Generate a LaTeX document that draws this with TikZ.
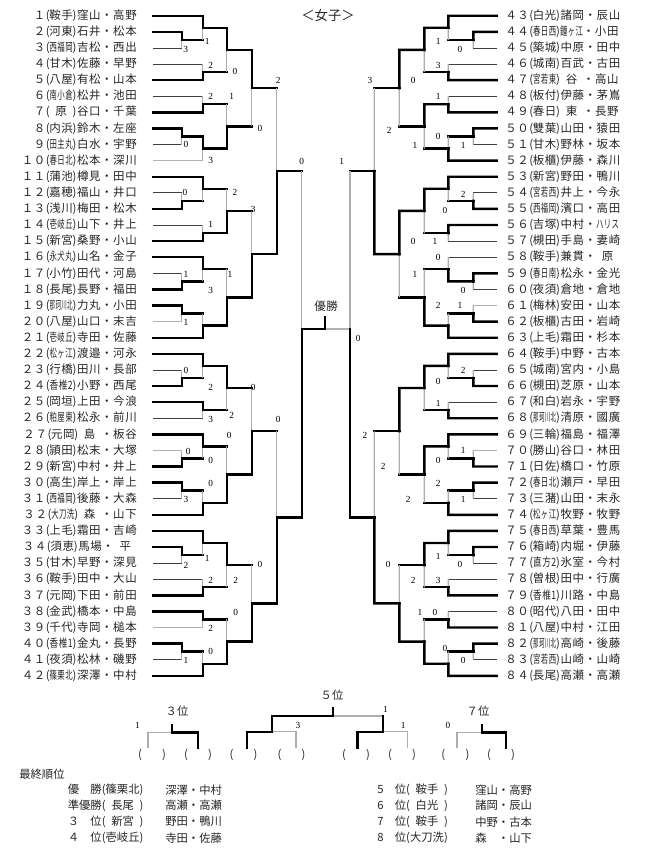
\documentclass[tikz,border=0pt]{standalone}
\usepackage{fontspec}
\usepackage{graphicx}
\usetikzlibrary{calc}
\newfontfamily\jp{Noto Sans CJK JP}
\newfontfamily\jpsp[LetterSpace=5]{Noto Sans CJK JP}
\newfontfamily\srf{Liberation Serif}
\newcommand\sq[1]{\resizebox{2em}{\height}{#1}}
\newcommand\tw[1]{\makebox[2em]{#1}}
\newcounter{scn}
\newcommand\entL[4]{%
  \coordinate (p#1) at (153.3,{15.7+(#1-1)*16.1});
  \node[ent,anchor=east] (t#1) at (137,{15.7+(#1-1)*16.1}) {#2(\tw{#3})#4};}
\newcommand\entR[4]{%
  \coordinate (p#1) at (496.7,{15.7+(#1-43)*16.1});
  \node[ent,anchor=west] (t#1) at (505,{15.7+(#1-43)*16.1}) {#2(\tw{#3})#4};}
% match: name, column, winner, loser, loser-horizontal style
\newcommand\bmatch[5]{%
  \coordinate (#1) at ($(#3 -| #2)!0.5!(#4 -| #2)$);
  \draw[#5] (#4) -- (#4 -| #2);
  \draw[lv] (#4 -| #2) -- (#1);
  \draw[win] (#3) -- (#3 -| #2) -- (#1);}
\newcommand\sclab[3]{\stepcounter{scn}\node[score] (s\arabic{scn}) at (#1,#2) {#3};}
\tikzset{
  win/.style={line width=1.8pt, black, line cap=rect},
  mh/.style={line width=1.8pt, black, line cap=rect},
  lh/.style={line width=0.6pt, black!75},
  gh/.style={line width=1.1pt, black!30},
  lv/.style={line width=1pt, black!32},
  fl/.style={line width=1.6pt, black!30},
  ent/.style={font=\jpsp\fontsize{8.6}{10}\selectfont, text=black!85, inner sep=0pt},
  rk/.style={font=\jp\fontsize{8.5}{9}\selectfont, text=black!85, inner sep=0pt},
  score/.style={font=\srf\fontsize{7}{7}\selectfont, inner sep=0pt},
}
\begin{document}
\begin{tikzpicture}[x=0.75pt,y=-0.75pt]
\fill[white] (0,0) rectangle (650,850);
\useasboundingbox (0,0) rectangle (650,850);
% columns
\coordinate (L1) at (181.7,0); \coordinate (L2) at (202.7,0); \coordinate (L3) at (226.7,0);
\coordinate (L4) at (251.7,0); \coordinate (L5) at (276.7,0); \coordinate (L6) at (301.7,0);
\coordinate (R1) at (473.3,0); \coordinate (R2) at (448.3,0); \coordinate (R3) at (424.3,0);
\coordinate (R4) at (399.3,0); \coordinate (R5) at (374.3,0); \coordinate (R6) at (350,0);
\node[ent,font=\jp\fontsize{10}{10}\selectfont] (title) at (328,15.7) {＜女子＞};
% left entries
\entL{1}{１}{鞍手}{窪山・高野}
\entL{2}{２}{河東}{石井・松本}
\entL{3}{３}{\sq{西福岡}}{吉松・西出}
\entL{4}{４}{甘木}{佐藤・早野}
\entL{5}{５}{八屋}{有松・山本}
\entL{6}{６}{\sq{南小倉}}{松井・池田}
\entL{7}{７}{原}{谷口・千葉}
\entL{8}{８}{内浜}{鈴木・左座}
\entL{9}{９}{\sq{田主丸}}{白水・宇野}
\entL{10}{１０}{\sq{春日北}}{松本・深川}
\entL{11}{１１}{蒲池}{樽見・田中}
\entL{12}{１２}{嘉穂}{福山・井口}
\entL{13}{１３}{浅川}{梅田・松木}
\entL{14}{１４}{\sq{壱岐丘}}{山下・井上}
\entL{15}{１５}{新宮}{桑野・小山}
\entL{16}{１６}{\sq{永犬丸}}{山名・金子}
\entL{17}{１７}{小竹}{田代・河島}
\entL{18}{１８}{長尾}{長野・福田}
\entL{19}{１９}{\sq{那珂川北}}{力丸・小田}
\entL{20}{２０}{八屋}{山口・末吉}
\entL{21}{２１}{\sq{壱岐丘}}{寺田・佐藤}
\entL{22}{２２}{\sq{松ヶ江}}{渡邉・河永}
\entL{23}{２３}{行橋}{田川・長部}
\entL{24}{２４}{\sq{香椎2}}{小野・西尾}
\entL{25}{２５}{岡垣}{上田・今浪}
\entL{26}{２６}{\sq{粕屋東}}{松永・前川}
\entL{27}{２７}{元岡}{\tw{島}・板谷}
\entL{28}{２８}{頴田}{松末・大塚}
\entL{29}{２９}{新宮}{中村・井上}
\entL{30}{３０}{高生}{岸上・岸上}
\entL{31}{３１}{\sq{西福岡}}{後藤・大森}
\entL{32}{３２}{\sq{大刀洗}}{\tw{森}・山下}
\entL{33}{３３}{上毛}{霜田・吉崎}
\entL{34}{３４}{須恵}{馬場・\tw{平}}
\entL{35}{３５}{甘木}{早野・深見}
\entL{36}{３６}{鞍手}{田中・大山}
\entL{37}{３７}{元岡}{下田・前田}
\entL{38}{３８}{金武}{橋本・中島}
\entL{39}{３９}{千代}{寺岡・槌本}
\entL{40}{４０}{\sq{香椎1}}{金丸・長野}
\entL{41}{４１}{夜須}{松林・磯野}
\entL{42}{４２}{\sq{篠栗北}}{深澤・中村}
% right entries
\entR{43}{４３}{白光}{諸岡・辰山}
\entR{44}{４４}{\sq{春日西}}{\sq{鐘ヶ江}・小田}
\entR{45}{４５}{築城}{中原・田中}
\entR{46}{４６}{城南}{百武・古田}
\entR{47}{４７}{\sq{宮若東}}{\tw{谷}・高山}
\entR{48}{４８}{板付}{伊藤・茅嶌}
\entR{49}{４９}{春日}{\tw{東}・長野}
\entR{50}{５０}{雙葉}{山田・猿田}
\entR{51}{５１}{甘木}{野林・坂本}
\entR{52}{５２}{板櫃}{伊藤・森川}
\entR{53}{５３}{新宮}{野田・鴨川}
\entR{54}{５４}{\sq{宮若西}}{井上・今永}
\entR{55}{５５}{\sq{西福岡}}{濱口・高田}
\entR{56}{５６}{吉塚}{中村・\sq{ハリス}}
\entR{57}{５７}{槻田}{手島・妻崎}
\entR{58}{５８}{鞍手}{兼貫・\tw{原}}
\entR{59}{５９}{\sq{春日南}}{松永・金光}
\entR{60}{６０}{夜須}{倉地・倉地}
\entR{61}{６１}{梅林}{安田・山本}
\entR{62}{６２}{板櫃}{古田・岩崎}
\entR{63}{６３}{上毛}{霜田・杉本}
\entR{64}{６４}{鞍手}{中野・古本}
\entR{65}{６５}{城南}{宮内・小島}
\entR{66}{６６}{槻田}{芝原・山本}
\entR{67}{６７}{和白}{岩永・宇野}
\entR{68}{６８}{\sq{那珂川北}}{清原・國廣}
\entR{69}{６９}{三輪}{福島・福澤}
\entR{70}{７０}{勝山}{谷口・林田}
\entR{71}{７１}{日佐}{橋口・竹原}
\entR{72}{７２}{\sq{春日北}}{瀬戸・早田}
\entR{73}{７３}{三潴}{山田・末永}
\entR{74}{７４}{\sq{松ヶ江}}{牧野・牧野}
\entR{75}{７５}{\sq{春日西}}{草葉・豊馬}
\entR{76}{７６}{箱崎}{内堀・伊藤}
\entR{77}{７７}{\sq{直方2}}{氷室・今村}
\entR{78}{７８}{曽根}{田中・行廣}
\entR{79}{７９}{\sq{香椎1}}{川路・中島}
\entR{80}{８０}{昭代}{八田・田中}
\entR{81}{８１}{八屋}{中村・江田}
\entR{82}{８２}{\sq{那珂川北}}{高崎・後藤}
\entR{83}{８３}{\sq{宮若西}}{山崎・山崎}
\entR{84}{８４}{長尾}{高瀬・高瀬}
% ---- left bracket
\bmatch{a23}{L1}{p2}{p3}{lh}
\bmatch{a1}{L2}{p1}{a23}{mh}
\bmatch{a45}{L2}{p5}{p4}{lh}
\bmatch{aa}{L3}{a1}{a45}{mh}
\bmatch{a67}{L2}{p7}{p6}{lh}
\bmatch{a89}{L1}{p8}{p9}{lh}
\bmatch{a810}{L2}{a89}{p10}{gh}
\bmatch{ab}{L3}{a810}{a67}{mh}
\bmatch{aT}{L4}{aa}{ab}{mh}
\bmatch{b1213}{L1}{p13}{p12}{lh}
\bmatch{b11}{L2}{p11}{b1213}{mh}
\bmatch{b1415}{L2}{p15}{p14}{lh}
\bmatch{ba}{L3}{b1415}{b11}{mh}
\bmatch{b1718}{L1}{p18}{p17}{lh}
\bmatch{b16}{L2}{p16}{b1718}{mh}
\bmatch{b1920}{L1}{p19}{p20}{gh}
\bmatch{b21}{L2}{p21}{b1920}{mh}
\bmatch{bb}{L3}{b21}{b16}{mh}
\bmatch{bT}{L4}{bb}{ba}{mh}
\bmatch{QA}{L5}{bT}{aT}{mh}
\bmatch{c2324}{L1}{p24}{p23}{lh}
\bmatch{c22}{L2}{p22}{c2324}{mh}
\bmatch{c2526}{L2}{p25}{p26}{lh}
\bmatch{ca}{L3}{c22}{c2526}{mh}
\bmatch{c2829}{L1}{p29}{p28}{gh}
\bmatch{c27}{L2}{p27}{c2829}{mh}
\bmatch{c3031}{L1}{p30}{p31}{lh}
\bmatch{c32}{L2}{p32}{c3031}{mh}
\bmatch{cb}{L3}{c32}{c27}{mh}
\bmatch{cT}{L4}{cb}{ca}{mh}
\bmatch{d3435}{L1}{p34}{p35}{lh}
\bmatch{d33}{L2}{p33}{d3435}{mh}
\bmatch{d3637}{L2}{p37}{p36}{lh}
\bmatch{da}{L3}{d33}{d3637}{mh}
\bmatch{d3839}{L2}{p38}{p39}{gh}
\bmatch{d4041}{L1}{p40}{p41}{lh}
\bmatch{d42}{L2}{p42}{d4041}{mh}
\bmatch{db}{L3}{d42}{d3839}{mh}
\bmatch{dT}{L4}{db}{da}{mh}
\bmatch{QB}{L5}{dT}{cT}{mh}
% ---- right bracket
\bmatch{e4445}{R1}{p44}{p45}{lh}
\bmatch{e43}{R2}{p43}{e4445}{mh}
\bmatch{e4647}{R2}{p47}{p46}{lh}
\bmatch{ea}{R3}{e43}{e4647}{mh}
\bmatch{e4849}{R2}{p49}{p48}{lh}
\bmatch{e5051}{R1}{p50}{p51}{lh}
\bmatch{e52}{R2}{p52}{e5051}{mh}
\bmatch{eb}{R3}{e4849}{e52}{mh}
\bmatch{eT}{R4}{ea}{eb}{mh}
\bmatch{f5455}{R1}{p55}{p54}{lh}
\bmatch{f53}{R2}{p53}{f5455}{mh}
\bmatch{f5657}{R2}{p56}{p57}{lh}
\bmatch{fa}{R3}{f53}{f5657}{mh}
\bmatch{f5960}{R1}{p59}{p60}{lh}
\bmatch{f58}{R2}{f5960}{p58}{lh}
\bmatch{f6162}{R1}{p62}{p61}{gh}
\bmatch{f63}{R2}{p63}{f6162}{mh}
\bmatch{fb}{R3}{f63}{f58}{mh}
\bmatch{fT}{R4}{fa}{fb}{mh}
\bmatch{QE}{R5}{fT}{eT}{mh}
\bmatch{g6566}{R1}{p66}{p65}{lh}
\bmatch{g64}{R2}{p64}{g6566}{mh}
\bmatch{g6768}{R2}{p68}{p67}{lh}
\bmatch{ga}{R3}{g64}{g6768}{mh}
\bmatch{g7071}{R1}{p71}{p70}{gh}
\bmatch{g69}{R2}{p69}{g7071}{mh}
\bmatch{g7273}{R1}{p72}{p73}{lh}
\bmatch{g74}{R2}{p74}{g7273}{mh}
\bmatch{gb}{R3}{g69}{g74}{mh}
\bmatch{gT}{R4}{ga}{gb}{mh}
\bmatch{h7677}{R1}{p76}{p77}{lh}
\bmatch{h75}{R2}{p75}{h7677}{mh}
\bmatch{h7879}{R2}{p79}{p78}{lh}
\bmatch{ha}{R3}{h75}{h7879}{mh}
\bmatch{h8081}{R2}{p81}{p80}{lh}
\bmatch{h8283}{R1}{p82}{p83}{lh}
\bmatch{h84}{R2}{p84}{h8283}{mh}
\bmatch{hb}{R3}{h84}{h8081}{mh}
\bmatch{hT}{R4}{hb}{ha}{mh}
\bmatch{QF}{R5}{hT}{gT}{mh}
% ---- semifinals and final
\coordinate (fin) at (325,329);
\coordinate (fintop) at (325,317);
\coordinate (SL) at (L6 |- fin);
\coordinate (SR) at (R6 |- fin);
\draw[mh] (QA) -- (QA -| L6); \draw[lv] (QA -| L6) -- (SL);
\draw[mh] (QE) -- (QE -| R6); \draw[lv] (QE -| R6) -- (SR);
\draw[fl] (SR) -- (fin);
\draw[win] (QF) -- (QF -| R6) -- (SR);
\draw[win] (QB) -- (QB -| L6) -- (SL) -- (fin) -- (fintop);
\node[ent] (yusho) at (326,306) {優勝};
% ---- scores
\sclab{185.7}{49.3}{3}\sclab{207.3}{41.7}{1}\sclab{210.7}{65}{2}\sclab{235}{71.7}{0}
\sclab{278.3}{80}{2}\sclab{210.7}{96.3}{2}\sclab{231.7}{96.3}{1}\sclab{260}{128.3}{0}
\sclab{186}{144.3}{0}\sclab{210.7}{160.7}{3}\sclab{301.7}{161.7}{0}\sclab{185}{192.7}{0}
\sclab{235}{192.7}{2}\sclab{253.3}{209.3}{3}\sclab{210.7}{224}{1}\sclab{186}{274.3}{1}
\sclab{230}{274.3}{1}\sclab{210.7}{290.7}{3}\sclab{186}{322.7}{1}\sclab{186}{370.7}{0}
\sclab{210.7}{387.3}{2}\sclab{253.3}{387.3}{0}\sclab{231.7}{415}{2}\sclab{210.7}{419.3}{3}
\sclab{278.3}{419.3}{0}\sclab{229.3}{435}{0}\sclab{188.3}{451}{0}\sclab{210.7}{460}{0}
\sclab{210.7}{483.3}{0}\sclab{186}{499.3}{3}\sclab{207.3}{558.3}{1}\sclab{186}{565}{2}
\sclab{260}{564.3}{0}\sclab{210.7}{580}{2}\sclab{235.7}{580}{2}\sclab{235.7}{612.3}{0}
\sclab{210.7}{628.3}{2}\sclab{210.7}{651}{0}\sclab{186}{660.7}{1}
\sclab{438.3}{41.7}{1}\sclab{460}{49.3}{0}\sclab{438.3}{65.7}{3}\sclab{370}{80}{3}
\sclab{413.3}{80}{0}\sclab{438.3}{96.7}{1}\sclab{389.3}{130}{2}\sclab{438.3}{136.7}{0}
\sclab{415}{145.7}{1}\sclab{463.3}{145.7}{1}\sclab{341.7}{161.7}{1}\sclab{463.3}{194.3}{2}
\sclab{445}{210}{0}\sclab{413.3}{241.7}{0}\sclab{435}{241.7}{1}\sclab{438.3}{257.3}{0}
\sclab{415}{274.3}{1}\sclab{463.3}{290.7}{0}\sclab{438.3}{305.7}{2}\sclab{460}{305.7}{1}
\sclab{358.3}{338.3}{0}\sclab{463.3}{370.7}{2}\sclab{438.3}{381.7}{0}\sclab{438.3}{403.3}{1}
\sclab{365}{435}{2}\sclab{463.3}{450.3}{1}\sclab{438.3}{460}{0}\sclab{383.3}{466.7}{2}
\sclab{438.3}{483.3}{2}\sclab{408.3}{499.3}{2}\sclab{463.3}{499.3}{1}\sclab{438.3}{556}{1}
\sclab{460}{564.3}{0}\sclab{388.3}{564.3}{0}\sclab{413.3}{580}{2}\sclab{438.3}{580}{3}
\sclab{420}{612.3}{1}\sclab{435}{612.3}{0}\sclab{445}{648.3}{0}\sclab{463.3}{660.7}{0}
% ---- placing matches
\node[rk] (h5) at (332,695) {５位};
\node[rk] (h3) at (177,710.7) {３位};
\node[rk] (h7) at (478,710.7) {７位};
\foreach \i/\x in {1/152,2/198,3/243.5,4/291.5,5/356,6/402,7/455.4,8/501}{
  \node[rk] (z\i) at (\x,755) {\makebox[21pt]{(\hfill)}};}
\coordinate (k1) at (148,748); \coordinate (k2) at (198,748);
\coordinate (k3) at (172,732.3); \coordinate (k4) at (172,725);
\draw[lv] (k1) |- (k3); \draw[win] (k2) |- (k3) -- (k4);
\coordinate (m1) at (247,748); \coordinate (m2) at (296,748); \coordinate (m3) at (272,731.7);
\coordinate (m4) at (357.5,748); \coordinate (m5) at (407.5,748); \coordinate (m6) at (383,731.7);
\coordinate (m7) at (333,716); \coordinate (m8) at (333,708);
\draw[lv] (m2) |- (m3); \draw[lv] (m5) |- (m6); \draw[lv] (m6 |- m7) -- (m7);
\draw[win] (m1) |- (m3) |- (m7) -- (m8);
\draw[win] (m4) |- (m6) -- (m6 |- m7);
\coordinate (n1) at (457,748); \coordinate (n2) at (506,748);
\coordinate (n3) at (482,732.3); \coordinate (n4) at (482,725);
\draw[lv] (n1) |- (n3); \draw[win] (n2) |- (n3) -- (n4);
\sclab{137.5}{725}{1}\sclab{298}{725}{3}\sclab{385.4}{709.3}{1}\sclab{403.3}{725}{1}\sclab{448}{725}{0}
% ---- final ranking
\node[rk,anchor=west] (fr0) at (19,774) {最終順位};
\node[rk,anchor=west] (fr1a) at (67.5,790) {優　勝(篠栗北)};
\node[rk,anchor=west] (fr1b) at (165,790) {深澤・中村};
\node[rk,anchor=west] (fr2a) at (67.5,805.5) {準優勝(\makebox[3em]{長尾})};
\node[rk,anchor=west] (fr2b) at (165,805.5) {高瀬・高瀬};
\node[rk,anchor=west] (fr3a) at (67.5,821.7) {３　位(\makebox[3em]{新宮})};
\node[rk,anchor=west] (fr3b) at (165,821.7) {野田・鴨川};
\node[rk,anchor=west] (fr4a) at (67.5,838) {４　位(壱岐丘)};
\node[rk,anchor=west] (fr4b) at (165,838) {寺田・佐藤};
\node[rk,anchor=west] (fr5a) at (377,790) {5　位(\makebox[3em]{鞍手})};
\node[rk,anchor=west] (fr5b) at (475,790) {窪山・高野};
\node[rk,anchor=west] (fr6a) at (377,805.5) {6　位(\makebox[3em]{白光})};
\node[rk,anchor=west] (fr6b) at (475,805.5) {諸岡・辰山};
\node[rk,anchor=west] (fr7a) at (377,821.7) {7　位(\makebox[3em]{鞍手})};
\node[rk,anchor=west] (fr7b) at (475,821.7) {中野・古本};
\node[rk,anchor=west] (fr8a) at (377,838) {8　位(大刀洗)};
\node[rk,anchor=west] (fr8b) at (475,838) {森　・山下};
\end{tikzpicture}
\end{document}
